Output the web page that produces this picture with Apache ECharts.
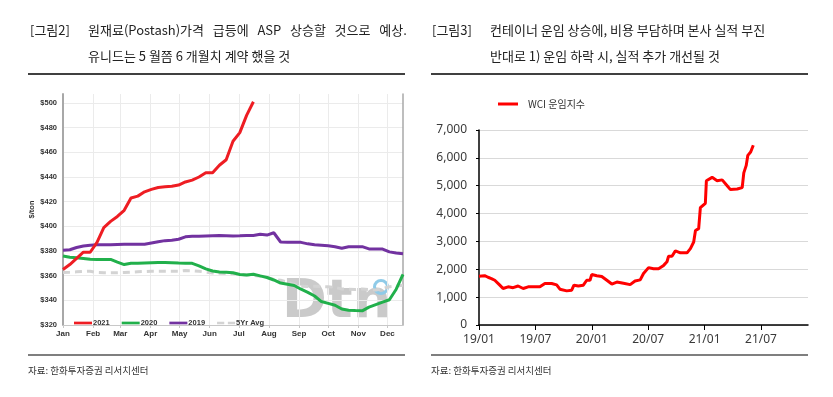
<!DOCTYPE html>
<html>
<head>
<meta charset="utf-8">
<script src="https://cdn.jsdelivr.net/npm/echarts@6/dist/echarts.min.js"></script>
<style>
  html, body { margin: 0; padding: 0; background: #fff; }
  #chart { width: 833px; height: 397px; }
</style>
</head>
<body>
<div id="chart"></div>
<script>
// left: potash price, weekly ($/ton), x = day of year
const months = ['Jan', 'Feb', 'Mar', 'Apr', 'May', 'Jun', 'Jul', 'Aug', 'Sep', 'Oct', 'Nov', 'Dec'];
const monthDays = [0, 31, 59, 90, 120, 151, 181, 212, 243, 273, 304, 334];
const potashTicks = [320, 340, 360, 380, 400, 420, 440, 460, 480, 500];

const s2021 = [365, 369, 374, 379, 379, 387, 399, 404, 408, 413, 423, 424.5, 428, 430, 431.5, 432, 432.5, 433.5, 436, 437.5,
  440, 443.5, 443.5, 449.5, 454, 469, 476, 490, 501];
const s2020 = [376, 375, 374.5, 374, 373.3, 373.2, 373.2, 373.2, 371, 369, 370, 370, 370.3, 370.5, 370.6, 370.7, 370.5, 370.2, 370, 370,
  368, 365.5, 363.8, 363, 362.7, 362.3, 361, 360.6, 361.2, 359.8, 358.5, 356.5, 354, 353, 352, 349, 346.5, 343.5, 339, 337.5,
  336, 333, 332, 331.7, 331.5, 334.5, 336.5, 338.5, 340.5, 349, 361];
const s2019 = [380.7, 381, 382.8, 384, 384.7, 385.1, 385, 385, 385.3, 385.4, 385.4, 385.4, 385.4, 386.5, 387.5, 388.4, 388.8, 389.5, 391.5, 392,
  392, 392.2, 392.4, 392.5, 392.4, 392.2, 392.3, 392.5, 392.6, 393.5, 392.9, 394.8, 387.3, 387, 387, 387, 385.8, 385, 384.6, 384.2,
  383.5, 382.3, 383.5, 383.5, 383.5, 381.7, 381.6, 381.6, 379.3, 378.3, 377.8];
const s5yr = [362.6, 362.8, 363.1, 363.4, 363.6, 362.6, 362.4, 362.3, 362.4, 362.6, 362.9, 363.2, 363.4, 363.6, 363.6, 363.6, 363.6, 363.6, 364.1, 364,
  363.6, 362.8, 362.2, 361.9, 361.8, 361.5, 361, 360.6, 360.3, 359.6, 358.6, 357, 356.3, 354.6, 353, 351.5, 351.2, 351.4, 351.2, 351,
  350.5, 349.2, 349, 348.8, 349.2, 348.8, 348.4, 349.5, 351, 351.6, 352.3];

// right: WCI freight index, x = months since 2019-01
const wciTickLabels = ['19/01', '19/07', '20/01', '20/07', '21/01', '21/07'];
const wciTicks = [0, 6, 12, 18, 24, 30];
const wciMonth = [0, 0.6, 0.96, 1.32, 1.68, 2.21, 2.56, 3.1, 3.63, 4.16, 4.7, 5.23, 5.76, 6.48, 7.01, 7.73, 8.26, 8.61, 9.33, 9.86,
  10.1, 10.57, 11.1, 11.46, 11.81, 11.99, 12.53, 13.06, 13.6, 14.13, 14.66, 15.37, 16.08, 16.6, 17.15, 17.5, 18.04, 18.57, 19.1, 19.64,
  20, 20.17, 20.53, 20.89, 21.42, 22.13, 22.49, 22.84, 23.03, 23.37, 23.55, 24.08, 24.19, 24.8, 25.33, 25.87, 26.4, 26.75, 27.47, 28,
  28.17, 28.43, 28.6, 28.9, 29.18];
const wciValue = [1750, 1770, 1714, 1667, 1607, 1430, 1310, 1370, 1340, 1400, 1310, 1370, 1370, 1370, 1490, 1490, 1440, 1285, 1225, 1250,
  1430, 1400, 1430, 1607, 1607, 1810, 1770, 1740, 1607, 1470, 1540, 1500, 1450, 1580, 1620, 1850, 2060, 2020, 2020, 2140,
  2270, 2470, 2470, 2660, 2590, 2590, 2740, 2980, 3390, 3460, 4210, 4370, 5180, 5300, 5180, 5210, 5000, 4860, 4880, 4930,
  5460, 5730, 6090, 6210, 6450];

const weekly = arr => arr.map((v, i) => [i * 7, v]);
const smallBold = { fontFamily: 'Liberation Sans', fontWeight: 'bold', fontSize: 7.5, color: '#333' };
const titleFont = 'Noto Sans CJK KR';
const barIcon = 'path://M0,0H20V3H0Z';
const dashIcon = 'path://M0,0H8V3H0Z M12,0H20V3H12Z';

let myChart = echarts.init(document.getElementById('chart'), null, { renderer: 'canvas' });
let option = {
  animation: false,
  backgroundColor: '#fff',
  grid: [
    { left: 63, top: 94, width: 340, height: 231 },
    { left: 479, top: 130, width: 329, height: 195 }
  ],
  legend: [
    {
      left: 69, top: 314, itemWidth: 18, itemHeight: 3, itemGap: 12,
      data: [
        { name: '2021', icon: barIcon },
        { name: '2020', icon: barIcon },
        { name: '2019', icon: barIcon },
        { name: '5Yr Avg', icon: dashIcon }
      ],
      textStyle: { ...smallBold, padding: [0, 0, 0, -4] }
    },
    {
      left: 493, top: 94, itemWidth: 34, itemHeight: 3, itemGap: 10,
      data: [{ name: 'WCI 운임지수', icon: barIcon }],
      textStyle: { fontFamily: titleFont, fontSize: 10, color: '#333', padding: [0, 0, 0, -2] }
    }
  ],
  xAxis: [
    {
      type: 'value', gridIndex: 0, min: 0, max: 350,
      axisLine: { show: true, lineStyle: { color: '#c8c8c8', width: 1 } },
      axisTick: { show: true, customValues: monthDays, length: 3, lineStyle: { color: '#c8c8c8' } },
      axisLabel: { customValues: monthDays, formatter: v => months[monthDays.indexOf(v)] || '', margin: 5, ...smallBold, fontSize: 8 },
      splitLine: { show: true, lineStyle: { color: '#ebebeb' } }
    },
    {
      type: 'value', gridIndex: 1, min: 0, max: 35,
      axisLine: { show: true, lineStyle: { color: '#000', width: 1.5 } },
      axisTick: { show: true, customValues: wciTicks, length: 5, lineStyle: { color: '#000' } },
      axisLabel: { customValues: wciTicks, formatter: v => wciTickLabels[wciTicks.indexOf(v)] || '', margin: 9,
        fontFamily: 'Noto Sans', fontSize: 12, color: '#3a3a3a' },
      splitLine: { show: false }
    }
  ],
  yAxis: [
    {
      type: 'value', gridIndex: 0, min: 320, max: 507.3,
      name: '$/ton', nameLocation: 'middle', nameGap: 25, nameRotate: 90,
      nameTextStyle: smallBold,
      axisLine: { show: true, lineStyle: { color: '#a8a8a8', width: 2 } },
      axisTick: { show: false, customValues: potashTicks },
      axisLabel: { customValues: potashTicks, formatter: v => '$' + v, margin: 6, ...smallBold },
      splitLine: { show: true, lineStyle: { color: '#ebebeb' } }
    },
    {
      type: 'value', gridIndex: 0, min: 320, max: 507.3, position: 'right',
      axisLine: { show: true, lineStyle: { color: '#a8a8a8', width: 1.5 } },
      axisTick: { show: false }, axisLabel: { show: false }, splitLine: { show: false }
    },
    {
      type: 'value', gridIndex: 1, min: 0, max: 7000, interval: 1000,
      axisLine: { show: true, lineStyle: { color: '#000', width: 1.5 } },
      axisTick: { show: true, inside: false, length: 3, lineStyle: { color: '#000' } },
      axisLabel: { formatter: v => v.toLocaleString('en-US'), margin: 12, fontFamily: 'Noto Sans', fontSize: 12, color: '#3a3a3a' },
      splitLine: { show: true, lineStyle: { color: '#d9d9d9', width: 1.2 } }
    }
  ],
  graphic: [
    { type: 'text', left: 30, top: 24, style: { text: '[그림2]', fontFamily: titleFont, fontSize: 13, fill: '#222' } },
    { type: 'text', left: 88, top: 24, style: { text: '원재료(Postash)가격   급등에   ASP   상승할   것으로   예상.', fontFamily: titleFont, fontSize: 13, fill: '#222' } },
    { type: 'text', left: 88, top: 50, style: { text: '유니드는 5 월쯤 6 개월치 계약 했을 것', fontFamily: titleFont, fontSize: 13, fill: '#222' } },
    { type: 'line', shape: { x1: 28, y1: 74, x2: 405, y2: 74 }, style: { stroke: '#000', lineWidth: 1.5 } },
    { type: 'text', left: 432, top: 24, style: { text: '[그림3]', fontFamily: titleFont, fontSize: 13, fill: '#222' } },
    { type: 'text', left: 490, top: 24, style: { text: '컨테이너 운임 상승에, 비용 부담하며 본사 실적 부진', fontFamily: titleFont, fontSize: 13, fill: '#222' } },
    { type: 'text', left: 490, top: 50, style: { text: '반대로 1) 운임 하락 시, 실적 추가 개선될 것', fontFamily: titleFont, fontSize: 13, fill: '#222' } },
    { type: 'line', shape: { x1: 431, y1: 74, x2: 808, y2: 74 }, style: { stroke: '#000', lineWidth: 1.5 } },
    { type: 'line', shape: { x1: 28, y1: 355, x2: 405, y2: 355 }, style: { stroke: '#000', lineWidth: 1.2 } },
    { type: 'line', shape: { x1: 431, y1: 355, x2: 808, y2: 355 }, style: { stroke: '#000', lineWidth: 1.2 } },
    { type: 'text', left: 28, top: 366, style: { text: '자료: 한화투자증권 리서치센터', fontFamily: titleFont, fontSize: 9.5, fill: '#333' } },
    { type: 'text', left: 431, top: 366, style: { text: '자료: 한화투자증권 리서치센터', fontFamily: titleFont, fontSize: 9.5, fill: '#333' } },
    // DTN watermark
    { type: 'text', left: 282, top: 276, z: 0, style: { text: 'Dtn', fontFamily: 'DejaVu Sans', fontWeight: 'bold', fontSize: 54, fill: '#bdbdbd', opacity: 0.8 } },
    { type: 'circle', z: 0, shape: { cx: 381, cy: 287, r: 6.5 }, style: { fill: 'none', stroke: '#8fcbe8', lineWidth: 3 } }
  ],
  series: [
    { name: '2021', type: 'line', xAxisIndex: 0, yAxisIndex: 0, data: weekly(s2021), symbol: 'none', z: 5,
      lineStyle: { color: '#ee1d23', width: 3 }, itemStyle: { color: '#ee1d23' } },
    { name: '2020', type: 'line', xAxisIndex: 0, yAxisIndex: 0, data: weekly(s2020), symbol: 'none', z: 4,
      lineStyle: { color: '#21b04b', width: 3 }, itemStyle: { color: '#21b04b' } },
    { name: '2019', type: 'line', xAxisIndex: 0, yAxisIndex: 0, data: weekly(s2019), symbol: 'none', z: 4,
      lineStyle: { color: '#7232a0', width: 3 }, itemStyle: { color: '#7232a0' } },
    { name: '5Yr Avg', type: 'line', xAxisIndex: 0, yAxisIndex: 0, data: weekly(s5yr), symbol: 'none', z: 3,
      lineStyle: { color: '#d3d3d3', width: 3, type: [7, 5] }, itemStyle: { color: '#d3d3d3' } },
    { name: 'WCI 운임지수', type: 'line', xAxisIndex: 1, yAxisIndex: 2, data: wciMonth.map((m, i) => [m, wciValue[i]]), symbol: 'none',
      lineStyle: { color: '#ff0000', width: 3 }, itemStyle: { color: '#ff0000' } }
  ]
};
myChart.setOption(option);
</script>
</body>
</html>
